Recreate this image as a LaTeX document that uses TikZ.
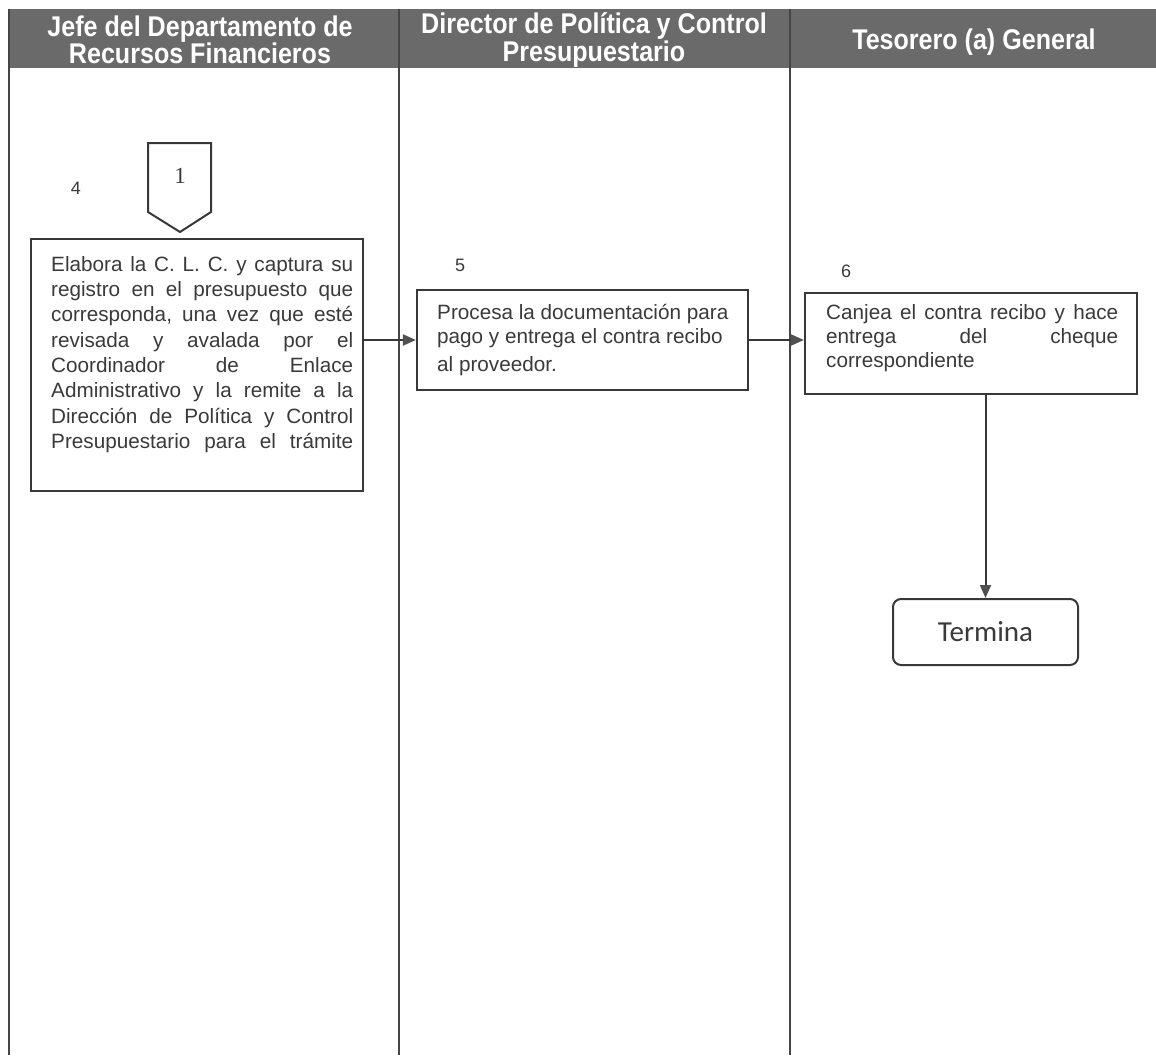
\documentclass[tikz,border=0pt]{standalone}
\usepackage{fontspec}
\setmainfont{Liberation Sans}
\newfontfamily\headfont[FakeStretch=0.88]{Liberation Sans}
\newfontfamily\endfont{Carlito}
\newfontfamily\markfont{Liberation Serif}
\usetikzlibrary{arrows.meta}
\definecolor{headgray}{HTML}{6a6a6a}
\definecolor{lanegray}{HTML}{454545}
\definecolor{boxgray}{HTML}{383838}
\definecolor{inkgray}{HTML}{3a3a3a}
\definecolor{tipgray}{HTML}{505050}
\frenchspacing
\begin{document}
\begin{tikzpicture}[x=1pt,y=-1pt,
  lane/.style={draw=lanegray,line width=2pt},
  procbox/.style={draw=boxgray,line width=2.2pt,fill=white,inner sep=0pt},
  endbox/.style={draw=boxgray,line width=2pt,rounded corners=8pt,inner sep=0pt,
    text=inkgray,font=\endfont\fontsize{29}{32}\selectfont},
  bodytext/.style={inner sep=0pt,anchor=north west,align=left,text=inkgray,
    font=\fontsize{20.7}{24}\selectfont},
  headtext/.style={text=white,align=center,inner sep=0pt,
    font=\headfont\bfseries\fontsize{28.5}{27.5}\selectfont},
  stepnum/.style={text=inkgray,inner sep=0pt,font=\fontsize{18}{20}\selectfont},
  flow/.style={draw=boxgray,line width=2pt,-{Triangle[length=13pt,width=11pt,color=tipgray]}}]

\useasboundingbox (0,0) rectangle (1156,1055);
\fill[white] (0,0) rectangle (1156,1055);

% lane header band
\fill[headgray] (9,9) rectangle (1156,68);
\node[headtext] (h1) at (200,40) {Jefe del Departamento de\\Recursos Financieros};
\node[headtext] (h2) at (594,40) {Director de Política y Control\\Presupuestario};
\node[headtext] (h3) at (974,42) {Tesorero (a) General};

% lane separators
\draw[lane] (9,9) -- (9,1055);
\draw[lane] (399,9) -- (399,1055);
\draw[lane] (790,9) -- (790,1055);

% off-page connector
\node[text=inkgray,inner sep=0pt,font=\markfont\fontsize{23}{23}\selectfont] (c1) at (180,176) {1};
\draw[draw=boxgray,line width=2pt,line join=miter]
  (148,143) -- (211,143) -- (211,212) -- (180,232) -- (148,212) -- cycle;

% step numbers
\node[stepnum] (n4) at (76,188) {4};
\node[stepnum] (n5) at (460,265) {5};
\node[stepnum] (n6) at (846,271) {6};

% process boxes
\node[procbox,minimum width=332pt,minimum height=252pt] (b1) at (197,365) {};
\node[procbox,minimum width=331pt,minimum height=100pt] (b5) at (582.5,340) {};
\node[procbox,minimum width=332pt,minimum height=101pt] (b6) at (971,343.5) {};
\node[endbox,minimum width=185pt,minimum height=66pt] (te) at (985.5,632) {Termina};

\node[bodytext,font=\fontsize{20.7}{25.3}\selectfont] (t1) at (51,255) {%
  \rule{0pt}{16pt}\makebox[302pt][s]{Elabora la C. L. C. y captura su}\\
  \makebox[302pt][s]{registro en el presupuesto que}\\
  \makebox[302pt][s]{corresponda, una vez que esté}\\
  \makebox[302pt][s]{revisada y avalada por el}\\
  \makebox[302pt][s]{Coordinador de Enlace}\\
  \makebox[302pt][s]{Administrativo y la remite a la}\\
  \makebox[302pt][s]{Dirección de Política y Control}\\
  \makebox[302pt][s]{Presupuestario para el trámite}};

\node[bodytext] (t5) at (437,303) {%
  \rule{0pt}{16pt}Procesa la documentación para\\
  pago y entrega el contra recibo\\[4pt]
  al proveedor.};

\node[bodytext] (t6) at (826,303) {%
  \rule{0pt}{16pt}\makebox[292pt][s]{Canjea el contra recibo y hace}\\
  \makebox[292pt][s]{entrega del cheque}\\
  correspondiente};

% flow connectors
\draw[flow] (b1.east |- b5.west) -- (b5.west);
\draw[flow] (b5.east) -- (b5.east -| b6.west);
\draw[flow] (te.north |- b6.south) -- (te.north);
\end{tikzpicture}
\end{document}
